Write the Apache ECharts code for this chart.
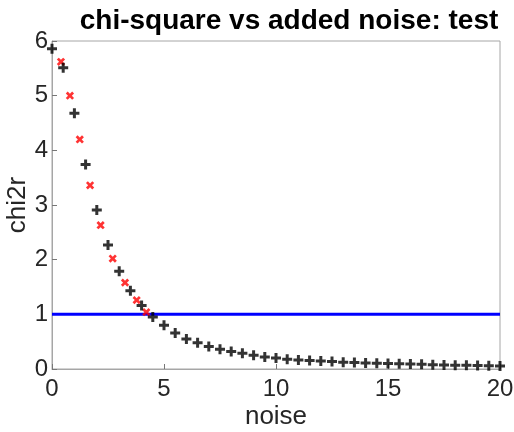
<!DOCTYPE html>
<html>
<head>
<meta charset="utf-8">
<script src="https://cdn.jsdelivr.net/npm/echarts@6/dist/echarts.min.js"></script>
<style>
  html, body { margin: 0; padding: 0; background: #fff; }
  #chart { width: 514px; height: 432px; }
</style>
</head>
<body>
<div id="chart"></div>
<script>
// black markers: noise 0:0.5:20
const noiseBlack = [0, 0.5, 1, 1.5, 2, 2.5, 3, 3.5, 4, 4.5, 5, 5.5, 6, 6.5, 7, 7.5, 8, 8.5, 9, 9.5, 10,
  10.5, 11, 11.5, 12, 12.5, 13, 13.5, 14, 14.5, 15, 15.5, 16, 16.5, 17, 17.5, 18, 18.5, 19, 19.5, 20];
const chiBlack = [5.86, 5.51, 4.68, 3.74, 2.91, 2.27, 1.79, 1.43, 1.16, 0.95, 0.80, 0.66, 0.55, 0.48, 0.41,
  0.36, 0.32, 0.29, 0.25, 0.22, 0.20, 0.18, 0.165, 0.155, 0.145, 0.135, 0.125, 0.12, 0.11, 0.105, 0.10,
  0.095, 0.09, 0.085, 0.08, 0.075, 0.07, 0.068, 0.064, 0.06, 0.055];

// red markers
const noiseRed = [0.4, 0.8, 1.24, 1.7, 2.17, 2.71, 3.26, 3.78, 4.21];
const chiRed = [5.62, 5.00, 4.20, 3.36, 2.63, 2.02, 1.58, 1.26, 1.04];

// reference line
const lineX = [0, 20];
const lineY = [1, 1];

const xTicks = [0, 5, 10, 15, 20];
const yTicks = [0, 1, 2, 3, 4, 5, 6];

const zip = (a, b) => a.map((v, i) => [v, b[i]]);
const plusPath = 'path://M3.5,0h3v3.5h3.5v3h-3.5v3.5h-3v-3.5h-3.5v-3h3.5z';

let chart = echarts.init(document.getElementById('chart'));
let option = {
  animation: false,
  textStyle: { fontFamily: 'Liberation Sans, Arial, sans-serif' },
  title: {
    text: 'chi-square vs added noise: test',
    left: 284, top: 2, textAlign: 'center',
    textStyle: { fontSize: 28, fontWeight: 'bold', color: '#000' }
  },
  grid: { left: 52, right: 14, top: 41, bottom: 63, outerBoundsMode: 'none', containLabel: false },
  xAxis: {
    type: 'value', min: 0, max: 20, interval: 5,
    name: 'noise', nameLocation: 'middle', nameGap: 35, nameMoveOverlap: false,
    nameTextStyle: { fontSize: 26, color: '#262626' },
    axisLine: { lineStyle: { color: '#a6a6a6' } },
    axisTick: { inside: true, length: 5, lineStyle: { color: '#777' } },
    axisLabel: { fontSize: 24, color: '#262626', margin: 8,
      formatter: v => xTicks.includes(v) ? String(v) : '' },
    splitLine: { show: false }
  },
  yAxis: {
    type: 'value', min: 0, max: 6, interval: 1,
    name: 'chi2r', nameLocation: 'middle', nameGap: 21, nameMoveOverlap: false,
    nameTextStyle: { fontSize: 26, color: '#262626' },
    axisLine: { lineStyle: { color: '#a6a6a6' } },
    axisTick: { inside: true, length: 5, lineStyle: { color: '#777' } },
    axisLabel: { fontSize: 24, color: '#262626', margin: 4,
      formatter: v => yTicks.includes(v) ? String(v) : '' },
    splitLine: { show: false }
  },
  graphic: [{
    type: 'rect', silent: true, z: -1,
    shape: { x: 52, y: 41, width: 448, height: 328 },
    style: { fill: 'none', stroke: '#a6a6a6', lineWidth: 1 }
  }],
  series: [
    {
      type: 'line', data: zip(lineX, lineY), symbol: 'none',
      lineStyle: { color: '#0000ff', width: 3 }, z: 1
    },
    {
      type: 'scatter', data: zip(noiseBlack, chiBlack),
      symbol: plusPath, symbolSize: 10, symbolKeepAspect: true,
      itemStyle: { color: '#000' }, z: 3
    },
    {
      type: 'scatter', data: zip(noiseRed, chiRed),
      symbol: plusPath, symbolSize: 9, symbolRotate: 45, symbolKeepAspect: true,
      itemStyle: { color: '#ff0000' }, z: 2
    }
  ]
};
chart.setOption(option);
</script>
</body>
</html>
